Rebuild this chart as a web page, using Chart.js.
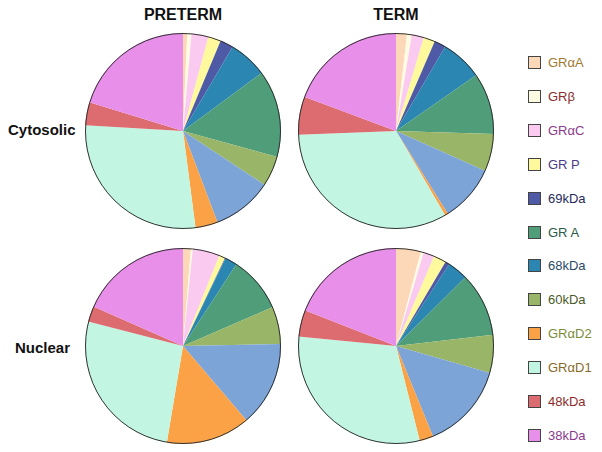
<!DOCTYPE html>
<html>
<head>
<meta charset="utf-8">
<script src="https://cdn.jsdelivr.net/npm/chart.js@4"></script>
<style>
  body { margin: 0; background: #fff; font-family: "Liberation Sans", Arial, sans-serif; }
  #wrap { position: relative; width: 602px; height: 452px; overflow: hidden; }
  canvas { position: absolute; }
  .title { position: absolute; font-weight: bold; font-size: 16px; color: #111; text-align: center; width: 120px; }
  .row { position: absolute; font-weight: bold; font-size: 15px; color: #111; }
  .leg { position: absolute; left: 528px; font-size: 13px; line-height: 14px; white-space: nowrap; }
  .leg span.box { display: inline-block; width: 11px; height: 11px; border: 1px solid #444; vertical-align: -2px; margin-right: 7px; }
</style>
</head>
<body>
<div id="wrap"></div>
<script>
// slice order, clockwise from 12 o'clock (the light blue slice has no legend entry)
const sliceLabels = ["GRαA", "GRβ", "GRαC", "GR P", "69kDa", "68kDa", "GR A", "60kDa", "", "GRαD2", "GRαD1", "48kDa", "38kDa"];
const sliceColors = ["#fcd8b8", "#fdfbe2", "#fbcaf0", "#fdf99c", "#4f5aa6", "#2b86b1", "#4f9e79", "#99b567", "#7da4d7", "#fca246", "#c2f6e3", "#dd6c70", "#e88fe9"];

// percentages
const pretermCytosolic = [0.7, 0.7, 2.8, 2.1, 2.2, 6.4, 14.4, 5.0, 10.0, 3.7, 28.0, 3.8, 20.3];
const termCytosolic    = [1.8, 0.8, 2.0, 1.9, 1.9, 6.9, 10.2, 6.2, 9.4, 0.5, 32.8, 6.3, 19.3];
const pretermNuclear   = [1.3, 0.3, 4.5, 1.0, 0.1, 2.0, 9.3, 6.2, 14.1, 13.9, 26.4, 2.6, 18.4];
const termNuclear      = [4.1, 0.5, 1.8, 2.1, 0.7, 3.4, 10.6, 6.3, 14.4, 2.3, 30.5, 4.4, 19.1];

const columns = ["PRETERM", "TERM"];
const rows = ["Cytosolic", "Nuclear"];

const legendLabels = ["GRαA", "GRβ", "GRαC", "GR P", "69kDa", "GR A", "68kDa", "60kDa", "GRαD2", "GRαD1", "48kDa", "38kDa"];
const legendTextColors = ["#a07a30", "#8c2e2e", "#8e3a8c", "#4a3c88", "#262a5a", "#2a5a48", "#2a4a66", "#4a5a28", "#7a8c3a", "#8a6a2a", "#8c2c2c", "#8c3a8c"];

const wrap = document.getElementById("wrap");

// draws just the outer ring of the pie
const outline = {
    id: "outline",
    afterDatasetsDraw(chart) {
        const arc = chart.getDatasetMeta(0).data[0];
        const ctx = chart.ctx;
        ctx.save();
        ctx.beginPath();
        ctx.arc(arc.x, arc.y, arc.outerRadius - 0.5, 0, Math.PI * 2);
        ctx.strokeStyle = "#333";
        ctx.lineWidth = 1;
        ctx.stroke();
        ctx.restore();
    }
};

function makePie(values, cx, cy) {
    const size = 196;
    const c = document.createElement("canvas");
    c.width = size;
    c.height = size;
    c.style.left = (cx - size / 2) + "px";
    c.style.top = (cy - size / 2) + "px";
    wrap.appendChild(c);
    new Chart(c.getContext("2d"), {
        type: "pie",
        data: {
            labels: sliceLabels,
            datasets: [{ data: values, backgroundColor: sliceColors, borderWidth: 0 }]
        },
        options: {
            responsive: false,
            animation: false,
            layout: { padding: 0 },
            plugins: { legend: { display: false }, tooltip: { enabled: false } }
        },
        plugins: [outline]
    });
}

const centersX = [183, 396];
const centersY = [131, 346];
makePie(pretermCytosolic, centersX[0], centersY[0]);
makePie(termCytosolic, centersX[1], centersY[0]);
makePie(pretermNuclear, centersX[0], centersY[1]);
makePie(termNuclear, centersX[1], centersY[1]);

columns.forEach(function (t, i) {
    const d = document.createElement("div");
    d.className = "title";
    d.textContent = t;
    d.style.left = (centersX[i] - 60) + "px";
    d.style.top = "6px";
    wrap.appendChild(d);
});

const rowPos = [[8, 121], [15, 339]];
rows.forEach(function (t, i) {
    const d = document.createElement("div");
    d.className = "row";
    d.textContent = t;
    d.style.left = rowPos[i][0] + "px";
    d.style.top = rowPos[i][1] + "px";
    wrap.appendChild(d);
});

legendLabels.forEach(function (t, i) {
    const d = document.createElement("div");
    d.className = "leg";
    d.style.top = (56 + i * 33.9) + "px";
    const box = document.createElement("span");
    box.className = "box";
    box.style.background = sliceColors[sliceLabels.indexOf(t)];
    const txt = document.createElement("span");
    txt.textContent = t;
    txt.style.color = legendTextColors[i];
    d.appendChild(box);
    d.appendChild(txt);
    wrap.appendChild(d);
});
</script>
</body>
</html>
